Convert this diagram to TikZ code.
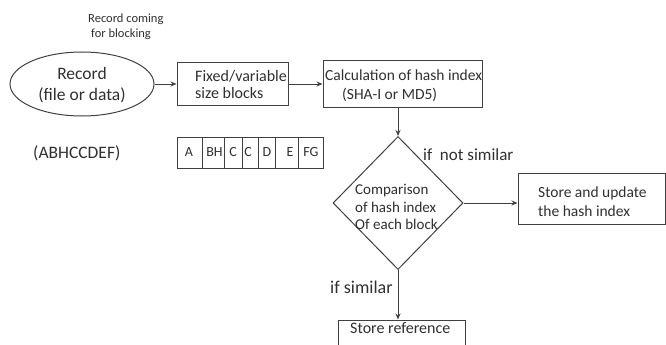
\documentclass[tikz,border=0pt]{standalone}
\usepackage{fontspec}
\setmainfont{Carlito}
\usetikzlibrary{shapes.geometric,arrows.meta}
\definecolor{ink}{HTML}{303030}
\definecolor{edge}{HTML}{404040}
\begin{document}
\begin{tikzpicture}[x={(1pt,0pt)},y={(0pt,-1pt)},
  box/.style={draw=edge,line width=1pt,rectangle,inner sep=0pt},
  txt/.style={text=ink,inner sep=0pt,align=left,font=\fontsize{15.5}{19}\selectfont},
  small/.style={text=ink,inner sep=0pt,align=left,font=\fontsize{12.5}{15}\selectfont},
  cell/.style={text=ink,inner sep=0pt,font=\fontsize{14}{16}\selectfont},
  conn/.style={draw=edge,line width=1pt,-{Stealth[length=6pt,width=5pt]}}]
\useasboundingbox[fill=white] (0,0) rectangle (666,345);

% top note
\node[small,anchor=west] (note) at (88,27) {Record coming\\\hspace*{3pt}for blocking};

% ellipse
\node[draw=edge,line width=1pt,ellipse,minimum width=144pt,minimum height=64pt,inner sep=0pt] (rec) at (82,84) {};
\node[txt,align=center,font=\fontsize{17.5}{21}\selectfont] (rectxt) at (82,85) {Record\\(file or data)};

% fixed/variable
\node[box,minimum width=111pt,minimum height=42pt] (fv) at (232.5,84) {};
\node[txt,anchor=west,font=\fontsize{16}{17}\selectfont] (fvtxt) at (195,85) {Fixed/variable\\size blocks};

% calculation
\node[box,minimum width=159pt,minimum height=46pt] (calc) at (402.5,84) {};
\node[txt,anchor=west] (calctxt) at (325,86) {Calculation of hash index\\\hspace*{17pt}(SHA-I or MD5)};

% diamond
\node[draw=edge,line width=1pt,diamond,minimum width=130pt,minimum height=133pt,inner sep=0pt] (cmp) at (398,203) {};
\node[txt,anchor=west,font=\fontsize{15}{17.5}\selectfont] (cmptxt) at (355,207) {Comparison\\of hash index\\Of each block};

% store update
\node[box,minimum width=147pt,minimum height=51pt] (upd) at (591.5,198.5) {};
\node[txt,anchor=west] (updtxt) at (538,202) {Store and update\\the hash index};

% store reference
\node[box,minimum width=127pt,minimum height=42pt] (ref) at (401.5,341) {};
\node[txt,anchor=west,font=\fontsize{16}{19}\selectfont] (reftxt) at (350,328) {Store reference};

% labels
\node[txt,anchor=west,font=\fontsize{17}{19}\selectfont] (notsim) at (423,155) {if\ \ not similar};
\node[txt,anchor=west,font=\fontsize{18}{19}\selectfont] (sim) at (330,287) {if similar};
\node[txt,anchor=west,font=\fontsize{17.5}{19}\selectfont] (abh) at (33,153) {(ABHCCDEF)};

% blocks
\node[box,minimum width=146pt,minimum height=31pt] (blk) at (250,152.5) {};
\foreach \x in {202,224,242,258,275,298}{\draw[edge,line width=1pt] (\x,137) -- (\x,168);}
\node[cell] (cA) at (189,152) {A};
\node[cell] (cB) at (214.5,152) {BH};
\node[cell] (cC) at (233,152) {C};
\node[cell] (cC2) at (248,152) {C};
\node[cell] (cD) at (267,152) {D};
\node[cell] (cE) at (290,152) {E};
\node[cell] (cF) at (311,152) {FG};

% connectors
\draw[conn] (rec.east) -- (fv.west);
\draw[conn] (fv.east) -- (fv.east -| calc.west);
\draw[conn] (calc.south -| cmp.north) -- (cmp.north);
\draw[conn] (cmp.east) -- (cmp.east -| upd.west);
\draw[conn] (cmp.south) -- (cmp.south |- ref.north);
\end{tikzpicture}
\end{document}
